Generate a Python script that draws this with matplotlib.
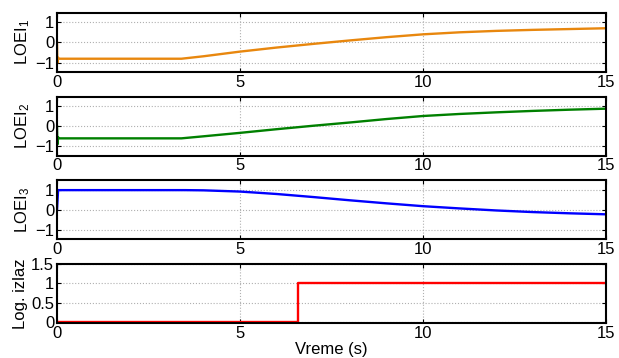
import matplotlib
matplotlib.use('Agg')
import matplotlib.pyplot as plt

# Data (time in s)
t_loei1 = [0, 0.01, 0.03, 0.06, 3.4, 4, 5, 6, 7, 8, 9, 10, 11, 12, 13, 14, 15]
loei1 = [0, -1.0, -0.75, -0.8, -0.8, -0.68, -0.45, -0.25, -0.07, 0.1, 0.26, 0.4, 0.5, 0.57, 0.62, 0.66, 0.7]

t_loei2 = [0, 0.01, 0.03, 0.06, 3.4, 4, 5, 6, 7, 8, 9, 10, 11, 12, 13, 14, 15]
loei2 = [0, -0.9, -0.55, -0.6, -0.6, -0.5, -0.33, -0.15, 0.02, 0.18, 0.35, 0.5, 0.6, 0.68, 0.75, 0.81, 0.86]

t_loei3 = [0, 0.03, 3.5, 4, 5, 6, 7, 8, 9, 10, 11, 12, 13, 14, 15]
loei3 = [0, 0.97, 0.97, 0.96, 0.9, 0.78, 0.63, 0.47, 0.32, 0.18, 0.07, -0.03, -0.11, -0.17, -0.22]

t_log = [0, 6.58, 6.58, 15]
log_out = [0, 0, 1, 1]

colors = ['#E8870E', '#008000', '#0000FF', '#FF0000']
ylabels = ['LOEI$_1$', 'LOEI$_2$', 'LOEI$_3$', 'Log. izlaz']

plt.rcParams['font.family'] = ['Liberation Sans', 'DejaVu Sans']
plt.rcParams['font.size'] = 12
plt.rcParams['mathtext.fontset'] = 'custom'
plt.rcParams['mathtext.rm'] = 'Liberation Sans'
plt.rcParams['mathtext.it'] = 'Liberation Sans'

fig, axes = plt.subplots(4, 1, figsize=(6.19, 3.58), dpi=100)
fig.subplots_adjust(left=57/619, right=606/619, top=1-13/358, bottom=1-323/358, hspace=0.42)

series = [(t_loei1, loei1), (t_loei2, loei2), (t_loei3, loei3), (t_log, log_out)]
for i, ax in enumerate(axes):
    x, y = series[i]
    ax.plot(x, y, color=colors[i], lw=1.7)
    ax.set_xlim(0, 15)
    ax.set_xticks([0, 5, 10, 15])
    if i < 3:
        ax.set_ylim(-1.45, 1.45)
        ax.set_yticks([-1, 0, 1])
    else:
        ax.set_ylim(-0.03, 1.5)
        ax.set_yticks([0, 0.5, 1, 1.5])
        ax.set_yticklabels(['0', '0.5', '1', '1.5'])
    ax.set_ylabel(ylabels[i], labelpad=2)
    ax.grid(True, linestyle=':', color='#b0b0b0', lw=0.8)
    ax.tick_params(direction='in', top=True, right=True, length=3, pad=2)
    for s in ax.spines.values():
        s.set_linewidth(1.5)

axes[-1].set_xlabel('Vreme (s)', labelpad=1)

plt.savefig('out.png', dpi=100)
